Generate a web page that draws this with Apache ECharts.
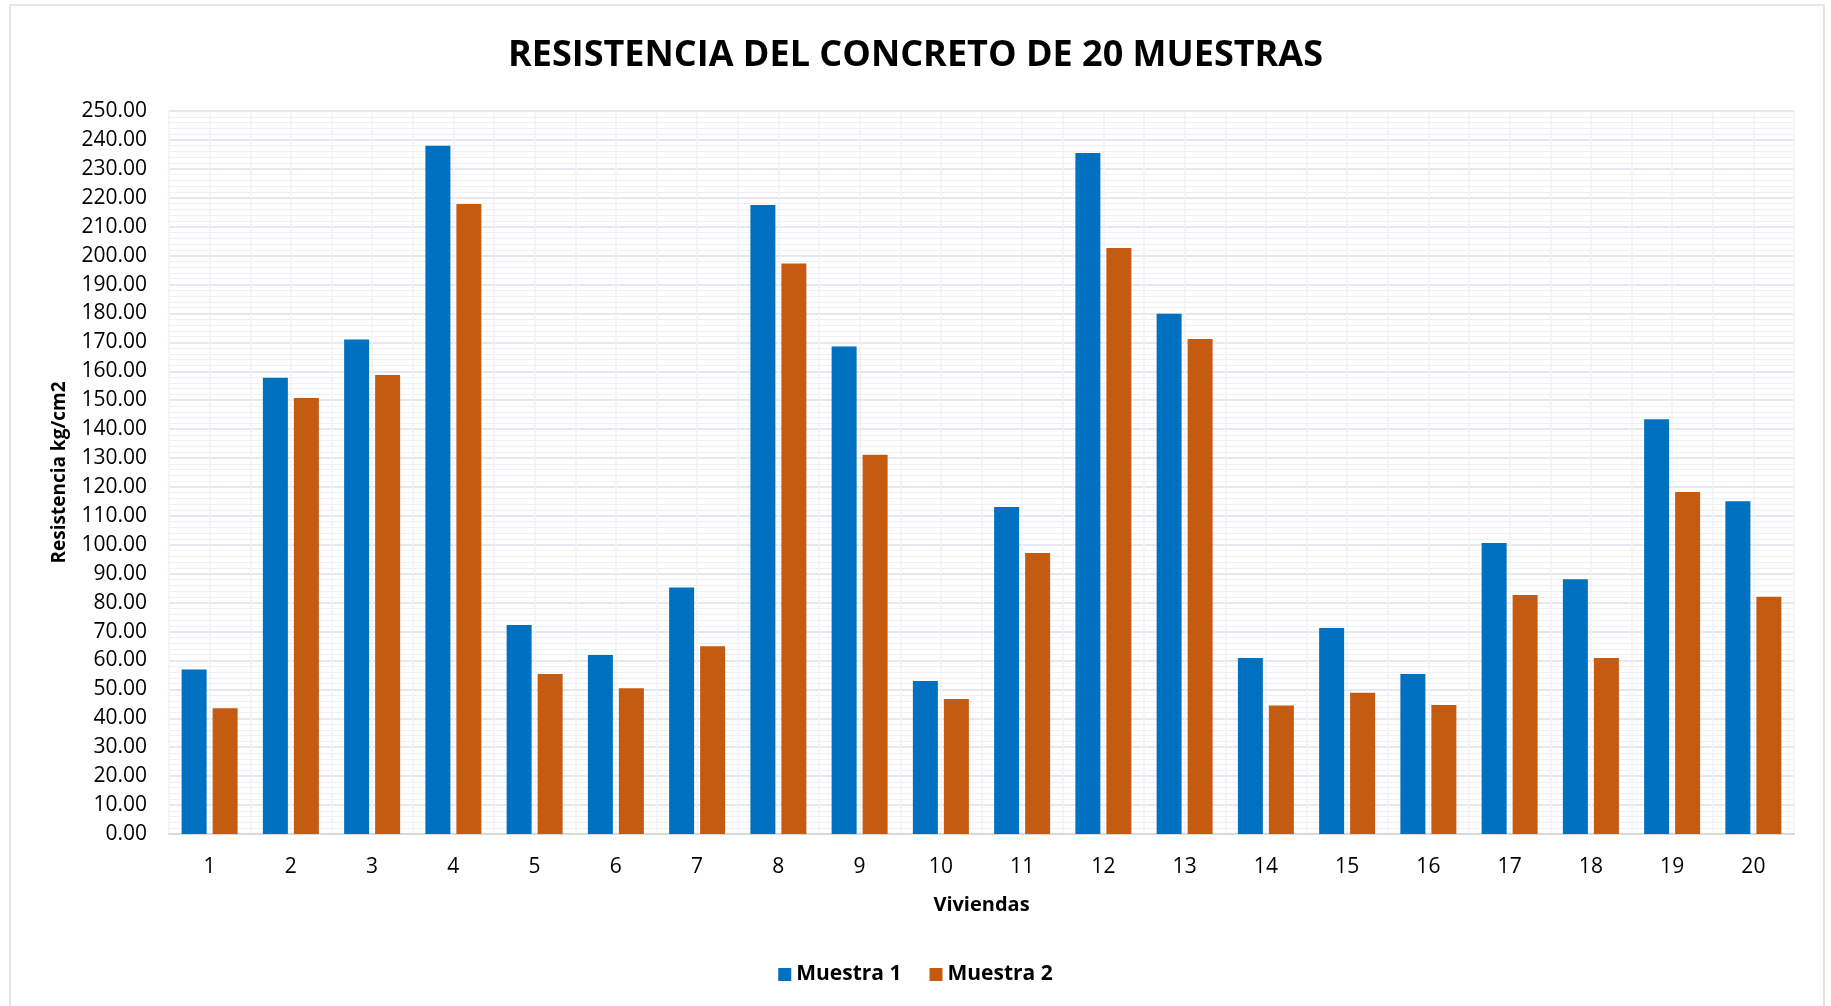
<!DOCTYPE html>
<html>
<head>
<meta charset="utf-8">
<title>Resistencia del concreto</title>
<script src="https://cdn.jsdelivr.net/npm/echarts@6/dist/echarts.min.js"></script>
<style>
  html, body { margin: 0; padding: 0; background: #fff; }
  #chart { width: 1831px; height: 1006px; }
</style>
</head>
<body>
<div id="chart"></div>
<script>
// datos
var viviendas = ['1', '2', '3', '4', '5', '6', '7', '8', '9', '10',
  '11', '12', '13', '14', '15', '16', '17', '18', '19', '20']
var muestra1 = [56.9, 157.8, 171.0, 238.0, 72.3, 61.9, 85.2, 217.5, 168.6, 52.9,
  113.1, 235.5, 179.9, 60.9, 71.2, 55.3, 100.6, 88.1, 143.4, 115.1]
var muestra2 = [43.5, 150.8, 158.7, 217.8, 55.3, 50.4, 64.9, 197.3, 131.1, 46.7,
  97.2, 202.6, 171.2, 44.4, 48.8, 44.6, 82.6, 60.9, 118.3, 82.0]

var FONT = '"Open Sans", "Liberation Sans", sans-serif'

var chart = echarts.init(document.getElementById('chart'))

var option = {
  backgroundColor: '#fff',
  animation: false,
  title: {
    text: 'RESISTENCIA DEL CONCRETO DE 20 MUESTRAS',
    left: 'center',
    top: 33,
    textStyle: { fontFamily: FONT, fontSize: 36, fontWeight: 'bold', color: '#000' }
  },
  graphic: [
    {
      type: 'rect',
      shape: { x: 10, y: 5, width: 1814, height: 1020 },
      style: { fill: 'none', stroke: '#e1e5ec', lineWidth: 2 },
      silent: true
    }
  ],
  legend: {
    bottom: 16,
    left: 'center',
    icon: 'rect',
    itemWidth: 13,
    itemHeight: 13,
    itemGap: 28,
    textStyle: { fontFamily: FONT, fontSize: 21, fontWeight: 'bold', color: '#000' }
  },
  grid: {
    left: 169,
    right: 37,
    top: 111,
    bottom: 172
  },
  xAxis: [
    {
      type: 'category',
      data: viviendas,
      name: 'Viviendas',
      nameLocation: 'middle',
      nameGap: 61,
      nameTextStyle: { fontFamily: FONT, fontSize: 20, fontWeight: 'bold', color: '#000' },
      axisLine: { lineStyle: { color: '#d9d9d9', width: 2 } },
      axisTick: { show: false },
      axisLabel: { fontFamily: FONT, fontSize: 21, color: '#000', margin: 23 },
      splitLine: { show: false }
    },
    {
      // solo para las lineas verticales del fondo
      type: 'value',
      position: 'top',
      min: 0,
      max: 40,
      interval: 1,
      axisLine: { show: false },
      axisTick: { show: false },
      axisLabel: { show: false },
      splitLine: { show: true, lineStyle: { color: '#f0f2f6', width: 1.5 } }
    }
  ],
  yAxis: {
    type: 'value',
    min: 0,
    max: 250,
    interval: 10,
    name: 'Resistencia kg/cm2',
    nameLocation: 'middle',
    nameGap: 100,
    nameTextStyle: { fontFamily: FONT, fontSize: 19, fontWeight: 'bold', color: '#000' },
    axisLine: { show: false },
    axisTick: { show: false },
    axisLabel: {
      fontFamily: FONT,
      fontSize: 21,
      color: '#000',
      margin: 22,
      formatter: function (v) { return v.toFixed(2) }
    },
    splitLine: { lineStyle: { color: '#dde1ea', width: 1.5 } },
    minorTick: { show: false, splitNumber: 5 },
    minorSplitLine: { show: true, lineStyle: { color: '#eef0f5', width: 1 } }
  },
  series: [
    {
      name: 'Muestra 1',
      type: 'bar',
      xAxisIndex: 0,
      barWidth: 25,
      barGap: '24%',
      itemStyle: { color: '#0070C0' },
      data: muestra1
    },
    {
      name: 'Muestra 2',
      type: 'bar',
      xAxisIndex: 0,
      barWidth: 25,
      barGap: '24%',
      itemStyle: { color: '#C55A11' },
      data: muestra2
    }
  ]
}

chart.setOption(option, true)
window.addEventListener('resize', function () {
  chart.resize()
})
</script>
</body>
</html>
